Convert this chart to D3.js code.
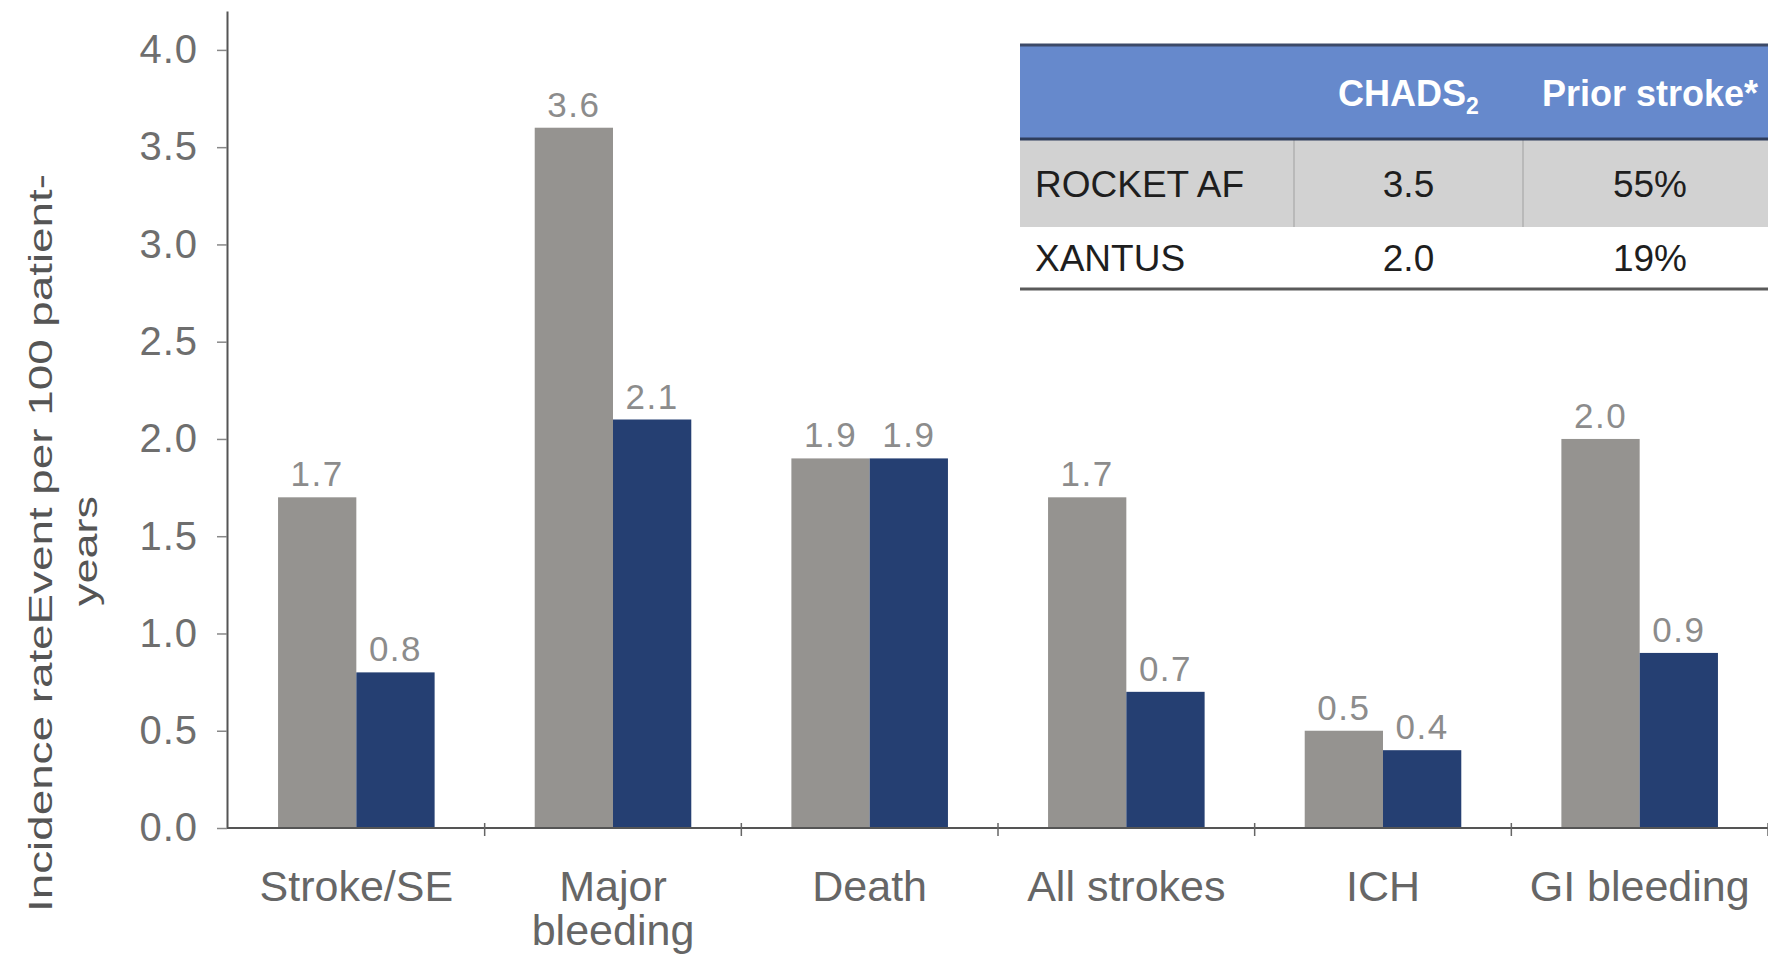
<!DOCTYPE html>
<html>
<head>
<meta charset="utf-8">
<script src="https://cdn.jsdelivr.net/npm/d3@7"></script>
<style>
  html, body { margin: 0; padding: 0; background: #ffffff; }
  svg { display: block; font-family: "Liberation Sans", Arial, sans-serif; }
</style>
</head>
<body>
<svg id="chart" width="1768" height="957"></svg>
<script>
// Event categories and incidence rates (events per 100 patient-years)
const categories = ["Stroke/SE", "Major bleeding", "Death", "All strokes", "ICH", "GI bleeding"];
const seriesNames = ["ROCKET AF", "XANTUS"];
const rocketValues = [1.7, 3.6, 1.9, 1.7, 0.5, 2.0];
const xantusValues = [0.8, 2.1, 1.9, 0.7, 0.4, 0.9];
const seriesColors = ["#959390", "#253f72"];
const yTicks = [0, 0.5, 1.0, 1.5, 2.0, 2.5, 3.0, 3.5, 4.0];
const yTitleLines = ["Incidence rateEvent per 100 patient-", "years"];

// Study characteristics table
const tableHeader = ["", "CHADS", "Prior stroke*"];
const tableRows = ["ROCKET AF", "XANTUS"];
const chadsScores = ["3.5", "2.0"];
const priorStroke = ["55%", "19%"];

const svg = d3.select("#chart");

const y = d3.scaleLinear().domain([0, 4.2]).range([828, 11]);
const x = d3.scaleBand().domain(categories).range([228, 1768]).padding(0);
const groupW = x.bandwidth() * 0.61;
const x1 = d3.scaleBand().domain(seriesNames).range([0, groupW]).padding(0);
const groupOffset = (x.bandwidth() - groupW) / 2;

const seriesValues = [rocketValues, xantusValues];
const barData = [];
categories.forEach((c, i) => {
  seriesNames.forEach((s, j) => {
    barData.push({ cat: c, series: s, value: seriesValues[j][i], color: seriesColors[j] });
  });
});

// Bars
svg.append("g").selectAll("rect")
  .data(barData)
  .join("rect")
  .attr("x", d => x(d.cat) + groupOffset + x1(d.series))
  .attr("y", d => y(d.value))
  .attr("width", x1.bandwidth())
  .attr("height", d => y(0) - y(d.value))
  .attr("fill", d => d.color);

// Value labels above bars
svg.append("g").selectAll("text")
  .data(barData)
  .join("text")
  .attr("x", d => x(d.cat) + groupOffset + x1(d.series) + x1.bandwidth() / 2)
  .attr("y", d => y(d.value) - 11)
  .attr("text-anchor", "middle")
  .attr("font-size", 35)
  .attr("letter-spacing", 1.5)
  .attr("fill", "#8c8c8c")
  .text(d => d.value.toFixed(1));

// Y axis
const yAxis = svg.append("g")
  .attr("transform", "translate(227,0)")
  .call(d3.axisLeft(y).tickValues(yTicks).tickSize(10).tickSizeOuter(0).tickPadding(19)
    .tickFormat(d => d.toFixed(1)));
yAxis.select(".domain").attr("stroke", "#555").attr("stroke-width", 2);
yAxis.selectAll(".tick line").attr("stroke", "#888").attr("stroke-width", 1.5);
yAxis.selectAll(".tick text")
  .attr("font-size", 40)
  .attr("letter-spacing", 1)
  .attr("fill", "#6e6e6e")
  .attr("font-family", "\"Liberation Sans\", Arial, sans-serif");

// X axis (category labels centred in each band, wrapped to the band width)
const xAxis = svg.append("g")
  .attr("transform", `translate(0,${y(0)})`)
  .call(d3.axisBottom(x).tickSize(0).tickSizeOuter(0).tickPadding(73));
xAxis.select(".domain").remove();
xAxis.selectAll(".tick text")
  .attr("font-size", 43)
  .attr("fill", "#666")
  .attr("font-family", "\"Liberation Sans\", Arial, sans-serif")
  .attr("dy", 0)
  .each(function () {
    const t = d3.select(this);
    const words = t.text().split(" ");
    const maxW = x.bandwidth() - 10;
    t.text(null);
    let line = [];
    let tspan = t.append("tspan").attr("x", 0).attr("dy", 0);
    words.forEach(w => {
      line.push(w);
      tspan.text(line.join(" "));
      if (tspan.node().getComputedTextLength() > maxW && line.length > 1) {
        line.pop();
        tspan.text(line.join(" "));
        line = [w];
        tspan = t.append("tspan").attr("x", 0).attr("dy", 44).text(w);
      }
    });
  });

// Baseline with tick marks at category boundaries
svg.append("line")
  .attr("x1", 227).attr("x2", x.range()[1])
  .attr("y1", y(0)).attr("y2", y(0))
  .attr("stroke", "#555").attr("stroke-width", 2);
svg.append("g").selectAll("line")
  .data(categories)
  .join("line")
  .attr("x1", d => x(d) + x.bandwidth()).attr("x2", d => x(d) + x.bandwidth())
  .attr("y1", y(0) - 5).attr("y2", y(0) + 8)
  .attr("stroke", "#666").attr("stroke-width", 1.5);

// Y axis title (two rotated lines)
const yTitle = svg.append("g");
yTitle.append("text")
  .attr("transform", "translate(52,543) rotate(-90)")
  .attr("text-anchor", "middle")
  .attr("font-size", 33)
  .attr("fill", "#555")
  .attr("textLength", 738)
  .attr("lengthAdjust", "spacingAndGlyphs")
  .text(yTitleLines[0]);
yTitle.append("text")
  .attr("transform", "translate(97,551) rotate(-90)")
  .attr("text-anchor", "middle")
  .attr("font-size", 34)
  .attr("fill", "#555")
  .attr("textLength", 110)
  .attr("lengthAdjust", "spacingAndGlyphs")
  .text(yTitleLines[1]);

// Study comparison table
const colEdges = [1020, 1294, 1523, 1777];
const headerTop = 45, headerBottom = 139, row1Bottom = 227, row2Bottom = 289;
const table = svg.append("g");

table.append("rect")
  .attr("x", colEdges[0]).attr("y", headerTop)
  .attr("width", colEdges[3] - colEdges[0]).attr("height", headerBottom - headerTop)
  .attr("fill", "#6689cc");
table.append("rect")
  .attr("x", colEdges[0]).attr("y", headerBottom)
  .attr("width", colEdges[3] - colEdges[0]).attr("height", row1Bottom - headerBottom)
  .attr("fill", "#d2d2d2");

// Column separators in the shaded row
table.selectAll("line.sep")
  .data([colEdges[1], colEdges[2]])
  .join("line")
  .attr("class", "sep")
  .attr("x1", d => d).attr("x2", d => d)
  .attr("y1", headerBottom).attr("y2", row1Bottom)
  .attr("stroke", "#b0b0b0").attr("stroke-width", 1.5);

table.append("line")
  .attr("x1", colEdges[0]).attr("x2", colEdges[3])
  .attr("y1", headerTop).attr("y2", headerTop)
  .attr("stroke", "#3c4a68").attr("stroke-width", 3);
table.append("line")
  .attr("x1", colEdges[0]).attr("x2", colEdges[3])
  .attr("y1", headerBottom).attr("y2", headerBottom)
  .attr("stroke", "#2e3d5c").attr("stroke-width", 3);
table.append("line")
  .attr("x1", colEdges[0]).attr("x2", colEdges[3])
  .attr("y1", row2Bottom).attr("y2", row2Bottom)
  .attr("stroke", "#5a5a5a").attr("stroke-width", 3);

// Header cells
const colCenter = i => (colEdges[i] + colEdges[i + 1]) / 2;
const chadsHead = table.append("text")
  .attr("x", colCenter(1)).attr("y", 106)
  .attr("text-anchor", "middle")
  .attr("font-size", 36).attr("font-weight", "bold")
  .attr("fill", "#ffffff");
chadsHead.append("tspan").text(tableHeader[1]);
chadsHead.append("tspan").attr("font-size", 23).attr("dy", 8).text("2");
table.append("text")
  .attr("x", colCenter(2)).attr("y", 106)
  .attr("text-anchor", "middle")
  .attr("font-size", 36).attr("font-weight", "bold")
  .attr("fill", "#ffffff")
  .text(tableHeader[2]);

// Body rows
const rowBaselines = [197, 271];
tableRows.forEach((r, i) => {
  table.append("text")
    .attr("x", colEdges[0] + 15).attr("y", rowBaselines[i])
    .attr("font-size", 37).attr("fill", "#1e1e1e")
    .text(r);
  table.append("text")
    .attr("x", colCenter(1)).attr("y", rowBaselines[i])
    .attr("text-anchor", "middle")
    .attr("font-size", 37).attr("fill", "#1e1e1e")
    .text(chadsScores[i]);
  table.append("text")
    .attr("x", colCenter(2)).attr("y", rowBaselines[i])
    .attr("text-anchor", "middle")
    .attr("font-size", 37).attr("fill", "#1e1e1e")
    .text(priorStroke[i]);
});
</script>
</body>
</html>
